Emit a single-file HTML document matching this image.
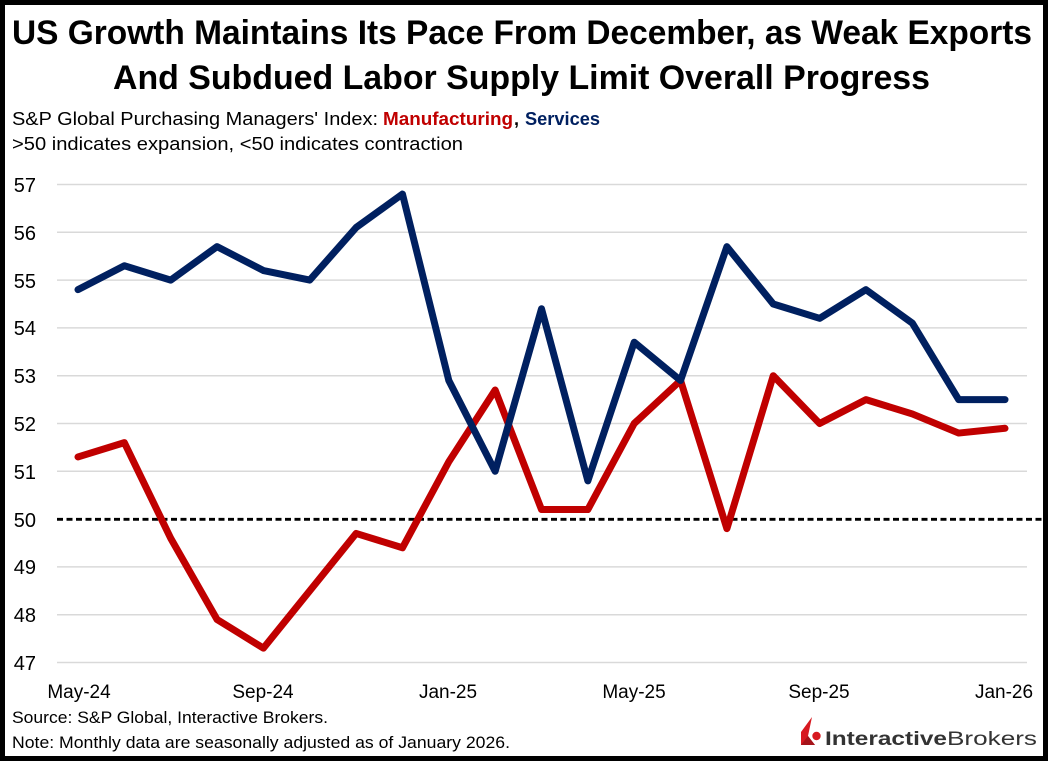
<!DOCTYPE html>
<html><head><meta charset="utf-8"><style>
html,body{margin:0;padding:0;background:#fff;}
svg{display:block;}
text{font-family:"Liberation Sans",sans-serif;}
</style></head><body>
<svg width="1050" height="763" viewBox="0 0 1050 763" xmlns="http://www.w3.org/2000/svg">
<rect x="0" y="0" width="1050" height="763" fill="#fff"/>
<rect x="2.5" y="2.5" width="1043" height="756" fill="#fff" stroke="#000" stroke-width="5"/>
<!-- title -->
<text x="12" y="44" font-size="34" font-weight="bold" fill="#000" textLength="1020" lengthAdjust="spacingAndGlyphs">US Growth Maintains Its Pace From December, as Weak Exports</text>
<text x="113" y="89" font-size="34" font-weight="bold" fill="#000" textLength="817" lengthAdjust="spacingAndGlyphs">And Subdued Labor Supply Limit Overall Progress</text>
<!-- subtitle -->
<text x="12" y="125" font-size="18" fill="#000" textLength="366" lengthAdjust="spacingAndGlyphs">S&amp;P Global Purchasing Managers' Index:</text>
<text x="383" y="125" font-size="18" font-weight="bold" fill="#C00000" textLength="130" lengthAdjust="spacingAndGlyphs">Manufacturing</text>
<text x="514" y="125" font-size="18" font-weight="bold" fill="#000">,</text>
<text x="525" y="125" font-size="18" font-weight="bold" fill="#002060" textLength="75" lengthAdjust="spacingAndGlyphs">Services</text>
<text x="12" y="150" font-size="18" fill="#000" textLength="451" lengthAdjust="spacingAndGlyphs">&gt;50 indicates expansion, &lt;50 indicates contraction</text>
<!-- gridlines -->
<g stroke="#D9D9D9" stroke-width="1.5">
<line x1="57" x2="1027" y1="184.5" y2="184.5"/>
<line x1="57" x2="1027" y1="232.3" y2="232.3"/>
<line x1="57" x2="1027" y1="280.1" y2="280.1"/>
<line x1="57" x2="1027" y1="327.9" y2="327.9"/>
<line x1="57" x2="1027" y1="375.7" y2="375.7"/>
<line x1="57" x2="1027" y1="423.5" y2="423.5"/>
<line x1="57" x2="1027" y1="471.3" y2="471.3"/>
<line x1="57" x2="1027" y1="566.9" y2="566.9"/>
<line x1="57" x2="1027" y1="614.7" y2="614.7"/>
<line x1="57" x2="1027" y1="662.5" y2="662.5"/>
</g>
<!-- y labels -->
<g font-size="20" fill="#000" text-anchor="end">
<text x="36" y="192">57</text>
<text x="36" y="240">56</text>
<text x="36" y="288">55</text>
<text x="36" y="335">54</text>
<text x="36" y="383">53</text>
<text x="36" y="431">52</text>
<text x="36" y="479">51</text>
<text x="36" y="527">50</text>
<text x="36" y="574">49</text>
<text x="36" y="622">48</text>
<text x="36" y="670">47</text>
</g>
<!-- x labels -->
<g font-size="19" fill="#000" text-anchor="middle">
<text x="79" y="698">May-24</text>
<text x="263" y="698">Sep-24</text>
<text x="448" y="698">Jan-25</text>
<text x="634" y="698">May-25</text>
<text x="819" y="698">Sep-25</text>
<text x="1004" y="698">Jan-26</text>
</g>
<!-- dashed 50 line -->
<line x1="57" x2="1043" y1="519.3" y2="519.3" stroke="#000" stroke-width="2.8" stroke-dasharray="6,3.5"/>
<!-- manufacturing -->
<polyline fill="none" stroke="#C00000" stroke-width="7" stroke-linejoin="round" stroke-linecap="round"
points="78,456.96 124.35,442.62 170.7,538.22 217.05,619.48 263.4,648.16 309.75,590.8 356.1,533.44 402.45,547.78 448.8,461.74 495.15,390.04 541.5,509.54 587.85,509.54 634.2,423.5 680.55,380.48 726.9,528.66 773.25,375.7 819.6,423.5 865.95,399.6 912.3,413.94 958.65,433.06 1005,428.28"/>
<!-- services -->
<polyline fill="none" stroke="#002060" stroke-width="7" stroke-linejoin="round" stroke-linecap="round"
points="78,289.66 124.35,265.76 170.7,280.1 217.05,246.64 263.4,270.54 309.75,280.1 356.1,227.52 402.45,194.06 448.8,380.48 495.15,471.3 541.5,308.78 587.85,480.86 634.2,342.24 680.55,380.48 726.9,246.64 773.25,304 819.6,318.34 865.95,289.66 912.3,323.12 958.65,399.6 1005,399.6"/>
<!-- footer -->
<text x="12" y="723" font-size="17" fill="#000" textLength="316" lengthAdjust="spacingAndGlyphs">Source: S&amp;P Global, Interactive Brokers.</text>
<text x="12" y="748" font-size="17" fill="#000" textLength="498" lengthAdjust="spacingAndGlyphs">Note: Monthly data are seasonally adjusted as of January 2026.</text>
<!-- logo -->
<polygon points="801,745 801,732 812,717 808,736 815,745" fill="#D71920"/>
<polygon points="801,745 808,736 815,745" fill="#A5141A"/>
<circle cx="816.5" cy="736" r="4.2" fill="#D71920"/>
<text x="825" y="745" font-size="19" font-weight="bold" fill="#333" textLength="122" lengthAdjust="spacingAndGlyphs">Interactive</text>
<text x="947" y="745" font-size="19" fill="#333" textLength="90" lengthAdjust="spacingAndGlyphs">Brokers</text>
</svg>
</body></html>
